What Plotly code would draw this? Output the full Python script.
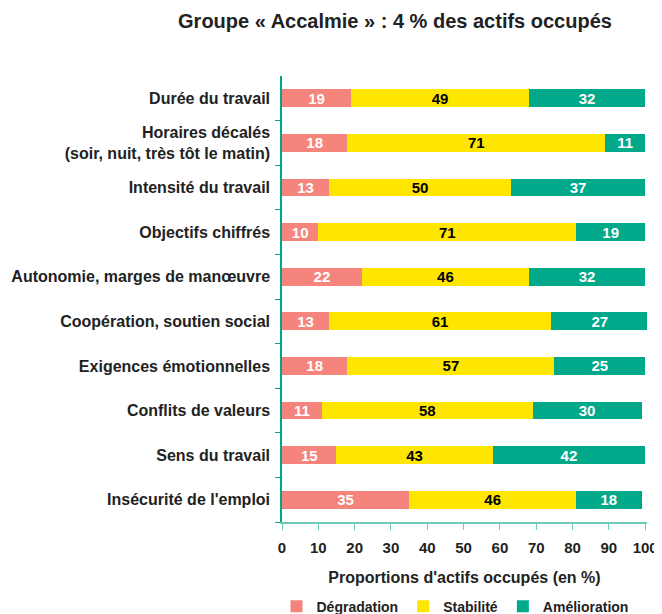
import plotly.graph_objects as go

categories = [
    "Durée du travail",
    "Horaires décalés<br>(soir, nuit, très tôt le matin)",
    "Intensité du travail",
    "Objectifs chiffrés",
    "Autonomie, marges de manœuvre",
    "Coopération, soutien social",
    "Exigences émotionnelles",
    "Conflits de valeurs",
    "Sens du travail",
    "Insécurité de l'emploi",
]
degradation = [19, 18, 13, 10, 22, 13, 18, 11, 15, 35]
stabilite = [49, 71, 50, 71, 46, 61, 57, 58, 43, 46]
amelioration = [32, 11, 37, 19, 32, 27, 25, 30, 42, 18]
x_ticks = [0, 10, 20, 30, 40, 50, 60, 70, 80, 90, 100]

FONT = "Liberation Sans, Arial, sans-serif"
AXIS = "#00A88A"
series = [
    ("Dégradation", degradation, "#F4847C", "white"),
    ("Stabilité", stabilite, "#FFE600", "black"),
    ("Amélioration", amelioration, "#00A98A", "white"),
]

# page body has an 8px margin: figure is laid out in page coords minus 8
W, H = 654, 606
fig = go.Figure()
for name, vals, col, tcol in series:
    fig.add_trace(go.Bar(
        y=categories, x=vals, name=f"<b>{name}</b>", orientation="h",
        marker=dict(color=col, line=dict(width=0)),
        text=[f"<b>{v}</b>" for v in vals], textposition="inside",
        insidetextanchor="middle", textangle=0, constraintext="none",
        textfont=dict(family=FONT, size=15, color=tcol),
        hoverinfo="skip",
    ))

fig.update_layout(
    barmode="stack",
    bargap=0.6,
    width=W, height=H,
    margin=dict(l=274, r=15, t=68, b=92, autoexpand=False),
    paper_bgcolor="white", plot_bgcolor="white",
    font=dict(family=FONT, color="#222"),
    title=dict(
        text="<b>Groupe « Accalmie » : 4 % des actifs occupés</b>",
        x=387 / W, xanchor="center", xref="container",
        y=1 - 13 / H, yanchor="middle",
        font=dict(family=FONT, size=20, color="#222"),
    ),
    legend=dict(
        orientation="h", xref="container", x=447 / W, xanchor="center",
        y=-0.19, yanchor="middle",
        font=dict(family=FONT, size=14, color="#222"),
        traceorder="normal", itemwidth=30,
    ),
    showlegend=True,
)
fig.update_yaxes(
    categoryorder="array", categoryarray=categories[::-1],
    tickson="boundaries", ticks="outside", ticklen=5, tickcolor=AXIS,
    showline=True, linecolor=AXIS, linewidth=1.5, showgrid=False,
    tickfont=dict(family=FONT, size=16, color="#222"),
    ticklabelstandoff=7,
    tickvals=categories, ticktext=[f"<b>{c}</b>" for c in categories],
)
fig.update_xaxes(
    range=[0, 100.5], tickvals=x_ticks, ticktext=[f"<b>{t}</b>" for t in x_ticks],
    ticks="outside", ticklen=6, tickcolor="#6CCBB8",
    showline=True, linecolor="#6CCBB8", linewidth=1.5, showgrid=False, zeroline=False,
    tickfont=dict(family=FONT, size=15, color="#222"),
    ticklabelstandoff=5,
    title=dict(text="<b>Proportions d'actifs occupés (en %)</b>",
               font=dict(family=FONT, size=16, color="#222"), standoff=17),
)

fig.write_html("out.html")
